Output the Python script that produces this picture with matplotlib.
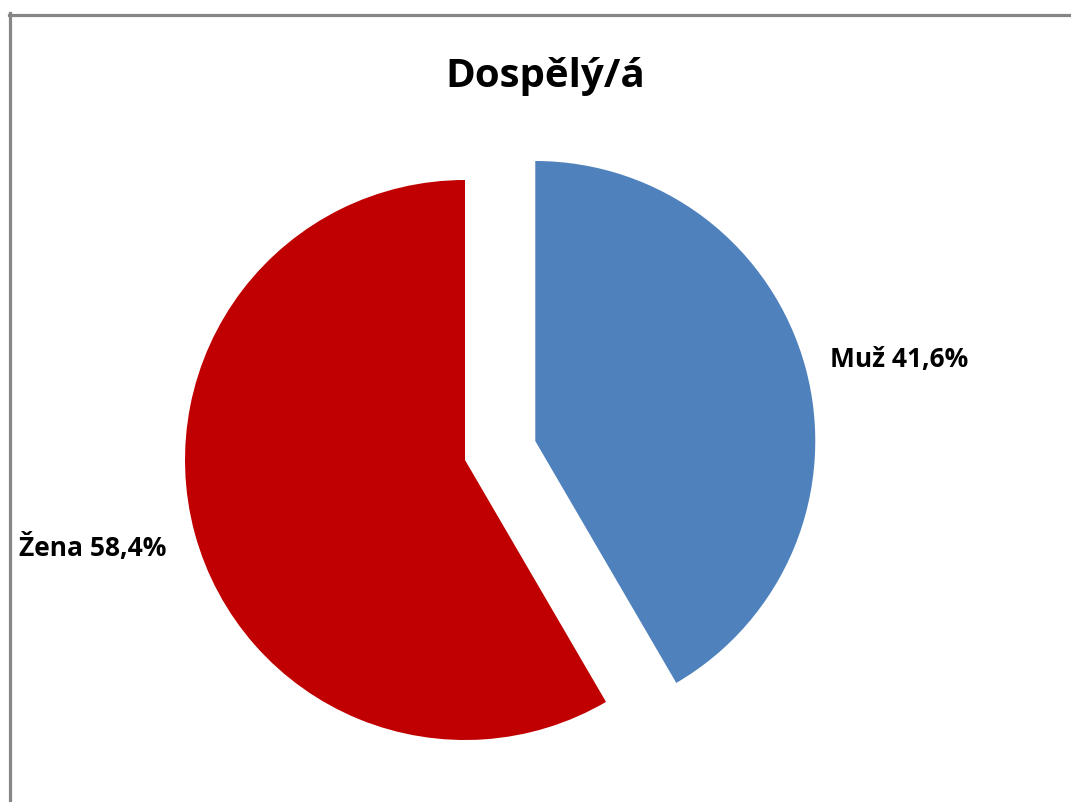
import matplotlib
matplotlib.use("Agg")
import matplotlib.pyplot as plt
from matplotlib.lines import Line2D

title = "Dospělý/á"
categories = ["Muž", "Žena"]
values = [41.6, 58.4]
colors = ["#4F81BD", "#C00000"]
explode_frac = [0.26, 0.0]

W, H = 1071, 802
R = 280
fig = plt.figure(figsize=(W / 100, H / 100), dpi=100)
ax = fig.add_axes([0, 0, 1, 1])

ax.pie(values, colors=colors, explode=[e * R for e in explode_frac], startangle=90,
       counterclock=False, center=(465, H - 460), radius=R, frame=True,
       wedgeprops=dict(linewidth=0))
ax.set_xlim(0, W)
ax.set_ylim(0, H)
ax.set_aspect("equal")
ax.axis("off")

font = "Open Sans"
ax.text(545, H - 76, title, ha="center", va="center", fontsize=29,
        fontweight="bold", family=font, color="#000000")
ax.text(830, H - 360, f"{categories[0]} {values[0]:.1f}%".replace(".", ","),
        ha="left", va="center", fontsize=19, fontweight="bold", family=font)
ax.text(19, H - 548, f"{categories[1]} {values[1]:.1f}%".replace(".", ","),
        ha="left", va="center", fontsize=19, fontweight="bold", family=font)

fig.add_artist(Line2D([9.5 / W, 9.5 / W], [0, 1 - 13 / H], transform=fig.transFigure,
                      color="#868686", linewidth=2.3))
fig.add_artist(Line2D([8.5 / W, 1], [1 - 14.5 / H, 1 - 14.5 / H], transform=fig.transFigure,
                      color="#868686", linewidth=2.3))

fig.savefig("out.png", dpi=100, facecolor="white")
